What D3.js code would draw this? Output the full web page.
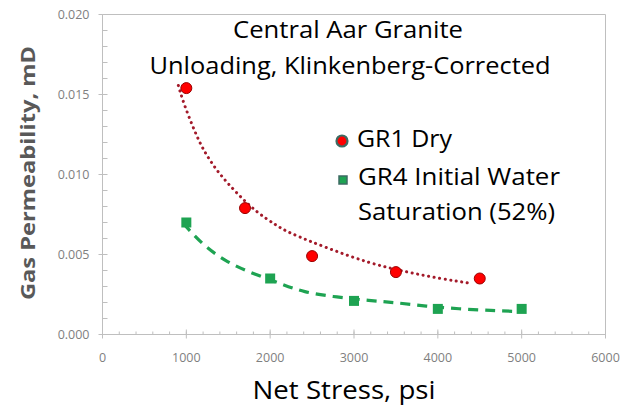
<!DOCTYPE html>
<html>
<head>
<meta charset="utf-8">
<script src="https://cdn.jsdelivr.net/npm/d3@7.9.0/dist/d3.min.js"></script>
<style>
  body { margin: 0; background: #fff; }
  svg { display: block; font-family: "Open Sans", "Noto Sans", sans-serif; }
</style>
</head>
<body>
<svg id="chart" width="631" height="407"></svg>
<script>
// measured data points
const dryStress = [1000, 1700, 2500, 3500, 4500];
const dryPerm = [0.0154, 0.0079, 0.0049, 0.0039, 0.0035];
const wetStress = [1000, 2000, 3000, 4000, 5000];
const wetPerm = [0.0070, 0.0035, 0.0021, 0.0016, 0.0016];

// trendlines
const dryTrendX = [905, 964, 1083, 1202, 1381, 1607, 1845, 2083, 2202, 2679, 3190, 3631, 4024, 4405];
const dryTrendY = [0.01556, 0.0145, 0.0129, 0.0115, 0.0101, 0.0088, 0.0076, 0.0068, 0.0064, 0.0054, 0.00444, 0.0039, 0.0035, 0.00319];
const wetTrendX = [964, 1202, 1488, 1798, 2119, 2393, 2798, 3190, 3488, 3869, 4250, 4650, 4940];
const wetTrendY = [0.00694, 0.00556, 0.0045, 0.0038, 0.00319, 0.00264, 0.00233, 0.00212, 0.0020, 0.00176, 0.0016, 0.0015, 0.00144];

const xTicks = [0, 1000, 2000, 3000, 4000, 5000, 6000];
const yTicks = [0, 0.005, 0.010, 0.015, 0.020];

const svg = d3.select('#chart');

const x = d3.scaleLinear().domain([0, 6000]).range([102.5, 605.5]);
const y = d3.scaleLinear().domain([0, 0.020]).range([334.5, 14.5]);

const gridColor = '#bfbfbf';

// plot border (top and right)
svg.append('path')
    .attr('d', `M${x(0)},${y(0.02)}H${x(6000)}V${y(0)}`)
    .attr('fill', 'none')
    .attr('stroke', gridColor);

// y axis
let yAxis = svg.append('g');
yAxis.append('line')
    .attr('x1', x(0)).attr('x2', x(0))
    .attr('y1', y(0)).attr('y2', y(0.02))
    .attr('stroke', gridColor);
d3.range(0, 0.0201, 0.001).forEach(v => {
    yAxis.append('line')
        .attr('x1', x(0)).attr('x2', x(0) + 5)
        .attr('y1', y(v)).attr('y2', y(v))
        .attr('stroke', gridColor);
});
yTicks.forEach(v => {
    yAxis.append('line')
        .attr('x1', x(0) - 4).attr('x2', x(0))
        .attr('y1', y(v)).attr('y2', y(v))
        .attr('stroke', gridColor);
    yAxis.append('text')
        .attr('x', x(0) - 13).attr('y', y(v) + 4.5)
        .attr('text-anchor', 'end')
        .attr('font-size', 12.5)
        .attr('fill', '#7f7f7f')
        .text(d3.format('.3f')(v));
});

// x axis
let xAxis = svg.append('g');
xAxis.append('line')
    .attr('x1', x(0)).attr('x2', x(6000))
    .attr('y1', y(0)).attr('y2', y(0))
    .attr('stroke', gridColor);
d3.range(0, 6001, 200).forEach(v => {
    xAxis.append('line')
        .attr('x1', x(v)).attr('x2', x(v))
        .attr('y1', y(0) - 3).attr('y2', y(0))
        .attr('stroke', gridColor);
});
xTicks.forEach(v => {
    xAxis.append('line')
        .attr('x1', x(v)).attr('x2', x(v))
        .attr('y1', y(0) - 5).attr('y2', y(0) + 4)
        .attr('stroke', gridColor);
    xAxis.append('text')
        .attr('x', x(v)).attr('y', y(0) + 27)
        .attr('text-anchor', 'middle')
        .attr('font-size', 12.5)
        .attr('fill', '#7f7f7f')
        .text(v);
});

// trendlines
let line = d3.line()
    .x(d => x(d[0]))
    .y(d => y(d[1]))
    .curve(d3.curveBasis);

svg.append('path')
    .attr('d', line(d3.zip(dryTrendX, dryTrendY)))
    .attr('fill', 'none')
    .attr('stroke', '#a31a2a')
    .attr('stroke-width', 3)
    .attr('stroke-linecap', 'round')
    .attr('stroke-dasharray', '0.1 5.5');

svg.append('path')
    .attr('d', line(d3.zip(wetTrendX, wetTrendY)))
    .attr('fill', 'none')
    .attr('stroke', '#1ea352')
    .attr('stroke-width', 3.2)
    .attr('stroke-dasharray', '10 7');

// markers
d3.zip(dryStress, dryPerm).forEach(d => {
    svg.append('circle')
        .attr('cx', x(d[0])).attr('cy', y(d[1]))
        .attr('r', 5.5)
        .attr('fill', '#ff0000')
        .attr('stroke', '#9a0000')
        .attr('stroke-width', 1);
});
d3.zip(wetStress, wetPerm).forEach(d => {
    svg.append('rect')
        .attr('x', x(d[0]) - 5).attr('y', y(d[1]) - 5)
        .attr('width', 10).attr('height', 10)
        .attr('fill', '#1ea352');
});

// title
const titleLines = ['Central Aar Granite', 'Unloading, Klinkenberg-Corrected'];
svg.append('text')
    .attr('x', 348).attr('y', 38)
    .attr('text-anchor', 'middle')
    .attr('font-size', 23)
    .attr('fill', '#000')
    .attr('textLength', 230).attr('lengthAdjust', 'spacingAndGlyphs')
    .text(titleLines[0]);
svg.append('text')
    .attr('x', 350).attr('y', 74)
    .attr('text-anchor', 'middle')
    .attr('font-size', 23)
    .attr('fill', '#000')
    .attr('textLength', 401).attr('lengthAdjust', 'spacingAndGlyphs')
    .text(titleLines[1]);

// legend
svg.append('circle')
    .attr('cx', 342).attr('cy', 141).attr('r', 5.5)
    .attr('fill', '#ff0000').attr('stroke', '#3d6b63').attr('stroke-width', 2.2);
svg.append('text')
    .attr('x', 357).attr('y', 147)
    .attr('font-size', 23)
    .attr('textLength', 95).attr('lengthAdjust', 'spacingAndGlyphs')
    .text('GR1 Dry');
svg.append('rect')
    .attr('x', 339).attr('y', 176).attr('width', 8).attr('height', 8)
    .attr('fill', '#1ea352').attr('stroke', '#3d6b63').attr('stroke-width', 1.5);
svg.append('text')
    .attr('x', 358).attr('y', 185)
    .attr('font-size', 23)
    .attr('textLength', 202).attr('lengthAdjust', 'spacingAndGlyphs')
    .text('GR4 Initial Water');
svg.append('text')
    .attr('x', 358).attr('y', 220)
    .attr('font-size', 23)
    .attr('textLength', 197).attr('lengthAdjust', 'spacingAndGlyphs')
    .text('Saturation (52%)');

// axis titles
svg.append('text')
    .attr('transform', 'translate(35,173) rotate(-90)')
    .attr('text-anchor', 'middle')
    .attr('font-size', 19)
    .attr('font-weight', 'bold')
    .attr('fill', '#595959')
    .attr('textLength', 254).attr('lengthAdjust', 'spacingAndGlyphs')
    .text('Gas Permeability, mD');
svg.append('text')
    .attr('x', 344).attr('y', 399)
    .attr('text-anchor', 'middle')
    .attr('font-size', 25)
    .attr('fill', '#000')
    .attr('textLength', 183).attr('lengthAdjust', 'spacingAndGlyphs')
    .text('Net Stress, psi');
</script>
</body>
</html>
